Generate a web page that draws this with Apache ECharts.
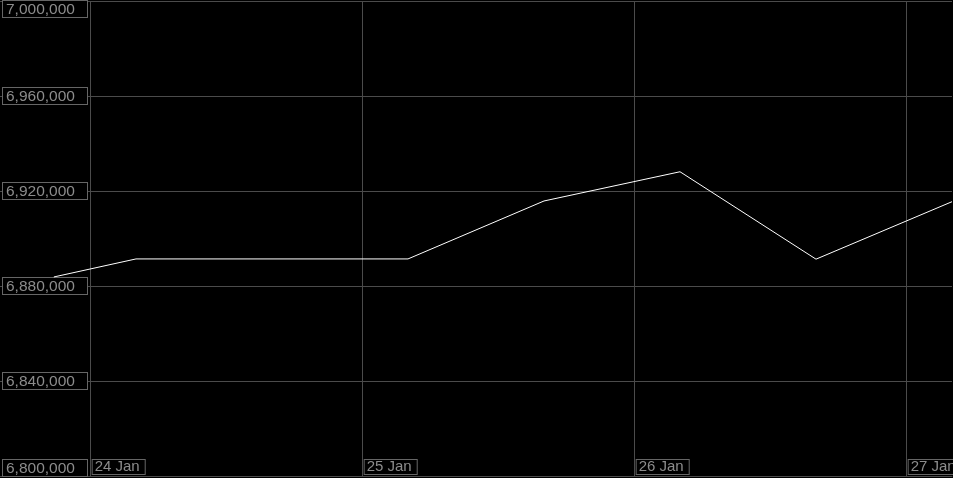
<!DOCTYPE html>
<html>
<head>
<meta charset="utf-8">
<script src="https://cdn.jsdelivr.net/npm/echarts@6/dist/echarts.min.js"></script>
<style>
html,body{margin:0;padding:0;background:#000;}
#c{width:953px;height:478px;}
</style>
</head>
<body>
<div id="c"></div>
<script>
// Data
const times = ['2024-01-23 20:45', '2024-01-24 04:00', '2024-01-25 04:00', '2024-01-25 16:00', '2024-01-26 04:00', '2024-01-26 16:00', '2024-01-27 04:00'];
const values = [6883800, 6891400, 6891400, 6915800, 6928100, 6891300, 6915500];
const months = ['Jan','Feb','Mar','Apr','May','Jun','Jul','Aug','Sep','Oct','Nov','Dec'];
const xMin = '2024-01-23 16:00';
const xMax = '2024-01-27 04:00';
const yMin = 6800000;
const yMax = 7000000;
const yStep = 40000;

const gridColor = '#4b4b4b';
const labelColor = '#8c8c8c';
const boxColor = '#666666';
const font = '"Liberation Sans", Arial, sans-serif';

function fmtNum(v) {
  return String(Math.round(v)).replace(/\B(?=(\d{3})+(?!\d))/g, ',');
}

const chart = echarts.init(document.getElementById('c'), null, {renderer: 'canvas'});
chart.setOption({
  backgroundColor: '#000',
  animation: false,
  grid: {left: 0, right: 1, top: 1, bottom: 2, containLabel: false, outerBoundsMode: 'none'},
  xAxis: {
    type: 'time',
    min: xMin,
    max: xMax,
    minInterval: 86400000,
    maxInterval: 86400000,
    axisLine: {show: true, lineStyle: {color: gridColor, width: 1}},
    axisTick: {show: false},
    splitLine: {show: true, showMinLine: false, showMaxLine: false, lineStyle: {color: gridColor, width: 1}},
    axisLabel: {
      inside: true,
      align: 'left',
      verticalAlign: 'bottom',
      margin: 2,
      padding: [0, 0, 0, 2],
      showMinLabel: false,
      showMaxLabel: false,
      hideOverlap: false,
      formatter: function (val) {
        const d = new Date(val);
        if (d.getHours() !== 0 || d.getMinutes() !== 0) return '';
        return '{b|' + d.getDate() + ' ' + months[d.getMonth()] + '}';
      },
      rich: {
        b: {
          color: labelColor, fontSize: 15, fontFamily: font,
          borderColor: boxColor, borderWidth: 1, backgroundColor: '#000',
          padding: [0, 5, 0, 2], height: 14, lineHeight: 14
        }
      }
    }
  },
  yAxis: {
    type: 'value',
    min: yMin,
    max: yMax,
    interval: yStep,
    axisLine: {show: false},
    axisTick: {show: false},
    splitLine: {show: true, lineStyle: {color: gridColor, width: 1}},
    axisLabel: {
      inside: true,
      align: 'left',
      margin: 3,
      showMinLabel: true,
      showMaxLabel: true,
      formatter: function (v) {
        const t = '{b|' + fmtNum(v) + '}';
        if (v === yMax) return '{sp| }\n' + t;
        if (v === yMin) return t + '\n{sp| }';
        return t;
      },
      rich: {
        b: {
          color: labelColor, fontSize: 15.5, fontFamily: font,
          borderColor: boxColor, borderWidth: 1, backgroundColor: '#000',
          padding: [1, 0, 0, 3], width: 81, height: 15, lineHeight: 15
        },
        sp: {fontSize: 2, height: 16, lineHeight: 16}
      }
    }
  },
  series: [{
    type: 'line',
    data: times.map((t, i) => [t, values[i]]),
    showSymbol: false,
    symbol: 'none',
    lineStyle: {color: '#ffffff', width: 1},
    itemStyle: {color: '#ffffff'},
    emphasis: {disabled: true},
    z: 3
  }]
});
</script>
</body>
</html>
